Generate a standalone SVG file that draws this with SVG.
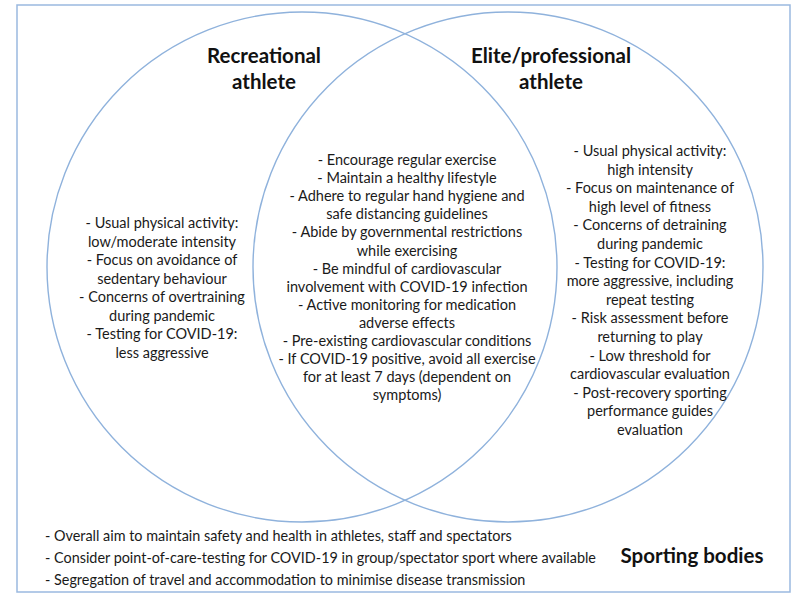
<svg xmlns="http://www.w3.org/2000/svg" width="800" height="600" viewBox="0 0 800 600">
<style>
.frame{fill:none;stroke:#9ab9e0;stroke-width:1.5}
.circ{fill:none;stroke:#8fb2dc;stroke-width:1.4}
.t{font-family:Lato,"Liberation Sans",sans-serif;font-size:14.5px;fill:#1a1a1a;text-anchor:middle}
.h{font-family:Lato,"Liberation Sans",sans-serif;font-size:20.5px;font-weight:bold;fill:#111;text-anchor:middle}
.b{font-family:Lato,"Liberation Sans",sans-serif;font-size:14.4px;fill:#1a1a1a}
</style>
<rect width="800" height="600" fill="#fff"/>
<g id="sporting-bodies">
<rect class="frame" x="17" y="5" width="773" height="587"/>
<text class="h" x="692" y="563">Sporting bodies</text>
<text class="b" x="45"><tspan x="45" y="541">- Overall aim to maintain safety and health in athletes, staff and spectators</tspan><tspan x="45" y="563">- Consider point-of-care-testing for COVID-19 in group/spectator sport where available</tspan><tspan x="45" y="585">- Segregation of travel and accommodation to minimise disease transmission</tspan></text>
</g>
<g id="recreational">
<circle class="circ" cx="302" cy="267" r="255"/>
<text class="h"><tspan x="264" y="63">Recreational</tspan><tspan x="264" y="89">athlete</tspan></text>
<text class="t"><tspan x="162" y="228">- Usual physical activity:</tspan><tspan x="162" y="246.6">low/moderate intensity</tspan><tspan x="162" y="265.1">- Focus on avoidance of</tspan><tspan x="162" y="283.7">sedentary behaviour</tspan><tspan x="162" y="302.3">- Concerns of overtraining</tspan><tspan x="162" y="320.9">during pandemic</tspan><tspan x="162" y="339.4">- Testing for COVID-19:</tspan><tspan x="162" y="358">less aggressive</tspan></text>
</g>
<g id="elite">
<circle class="circ" cx="508" cy="267" r="255"/>
<text class="h"><tspan x="551" y="63">Elite/professional</tspan><tspan x="551" y="89">athlete</tspan></text>
<text class="t"><tspan x="650" y="156">- Usual physical activity:</tspan><tspan x="650" y="174.6">high intensity</tspan><tspan x="650" y="193.2">- Focus on maintenance of</tspan><tspan x="650" y="211.8">high level of fitness</tspan><tspan x="650" y="230.4">- Concerns of detraining</tspan><tspan x="650" y="249">during pandemic</tspan><tspan x="650" y="267.6">- Testing for COVID-19:</tspan><tspan x="650" y="286.2">more aggressive, including</tspan><tspan x="650" y="304.8">repeat testing</tspan><tspan x="650" y="323.4">- Risk assessment before</tspan><tspan x="650" y="342">returning to play</tspan><tspan x="650" y="360.6">- Low threshold for</tspan><tspan x="650" y="379.2">cardiovascular evaluation</tspan><tspan x="650" y="397.8">- Post-recovery sporting</tspan><tspan x="650" y="416.4">performance guides</tspan><tspan x="650" y="435">evaluation</tspan></text>
</g>
<g id="overlap">
<text class="t"><tspan x="407" y="165">- Encourage regular exercise</tspan><tspan x="407" y="183.1">- Maintain a healthy lifestyle</tspan><tspan x="407" y="201.2">- Adhere to regular hand hygiene and</tspan><tspan x="407" y="219.3">safe distancing guidelines</tspan><tspan x="407" y="237.4">- Abide by governmental restrictions</tspan><tspan x="407" y="255.5">while exercising</tspan><tspan x="407" y="273.6">- Be mindful of cardiovascular</tspan><tspan x="407" y="291.7">involvement with COVID-19 infection</tspan><tspan x="407" y="309.8">- Active monitoring for medication</tspan><tspan x="407" y="327.9">adverse effects</tspan><tspan x="407" y="346">- Pre-existing cardiovascular conditions</tspan><tspan x="407" y="364.1">- If COVID-19 positive, avoid all exercise</tspan><tspan x="407" y="382.2">for at least 7 days (dependent on</tspan><tspan x="407" y="400.3">symptoms)</tspan></text>
</g>
<g id="connectors"/>
</svg>
